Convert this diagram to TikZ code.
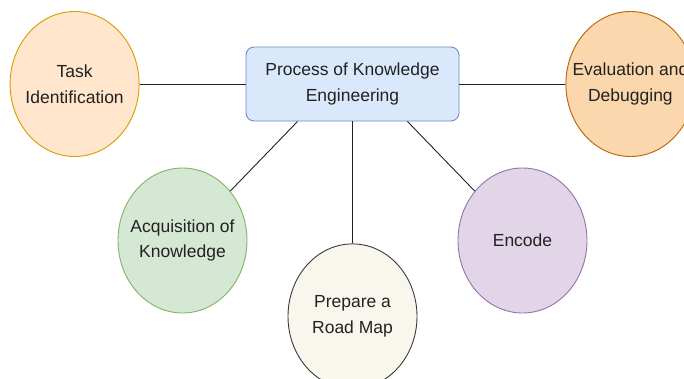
\documentclass[tikz,border=0pt]{standalone}
\usepackage{fontspec}
\setmainfont{Liberation Sans}
\usetikzlibrary{positioning,shapes.geometric}

\definecolor{taskfill}{HTML}{FFE6CC}
\definecolor{taskline}{HTML}{D79B00}
\definecolor{procfill}{HTML}{DAE8FC}
\definecolor{procline}{HTML}{6C8EBF}
\definecolor{evalfill}{HTML}{FAD7AC}
\definecolor{evalline}{HTML}{B46504}
\definecolor{acqfill}{HTML}{D5E8D4}
\definecolor{acqline}{HTML}{82B366}
\definecolor{mapfill}{HTML}{F9F7ED}
\definecolor{mapline}{HTML}{36393D}
\definecolor{encfill}{HTML}{E1D5E7}
\definecolor{encline}{HTML}{9673A6}
\definecolor{inkgray}{HTML}{222222}

\tikzset{
  phase/.style={ellipse, minimum width=129pt, minimum height=145pt,
    inner xsep=-20pt, inner ysep=0pt, line width=0.9pt, align=center,
    text=inkgray, font=\fontsize{17.5}{25.5}\selectfont},
  hub/.style={rectangle, rounded corners=8pt, minimum width=213pt,
    minimum height=74pt, line width=0.9pt, align=center, text=inkgray,
    draw=procline, fill=procfill, font=\fontsize{17.5}{25.5}\selectfont},
  link/.style={draw=inkgray, line width=0.9pt}
}

\begin{document}
\begin{tikzpicture}[x=1pt,y=-1pt]
  \useasboundingbox (0,0) rectangle (684,378);

% Nodes
  \node[hub]                                          (Proc) at (352.5,84) {Process of Knowledge\\Engineering};
  \node[phase, draw=taskline, fill=taskfill, left=106pt of Proc]  (Task) {Task\\Identification};
  \node[phase, draw=evalline, fill=evalfill, right=106pt of Proc] (Eval) {Evaluation and\\Debugging};
  \node[phase, draw=mapline, fill=mapfill, below=122pt of Proc]   (Map)  {Prepare a\\Road Map};
  \node[phase, draw=acqline, fill=acqfill]  (Acq) at (182.5,240.5) {Acquisition of\\Knowledge};
  \node[phase, draw=encline, fill=encfill]  (Enc) at (522.5,240.5) {Encode};

% Edges
  \draw[link] (Task) -- (Proc);
  \draw[link] (Proc) -- (Eval);
  \draw[link] (Proc) -- (Map);
  \draw[link] ([xshift=52pt]Proc.south west)  -- (Acq);
  \draw[link] ([xshift=-52pt]Proc.south east) -- (Enc);

\end{tikzpicture}
\end{document}
